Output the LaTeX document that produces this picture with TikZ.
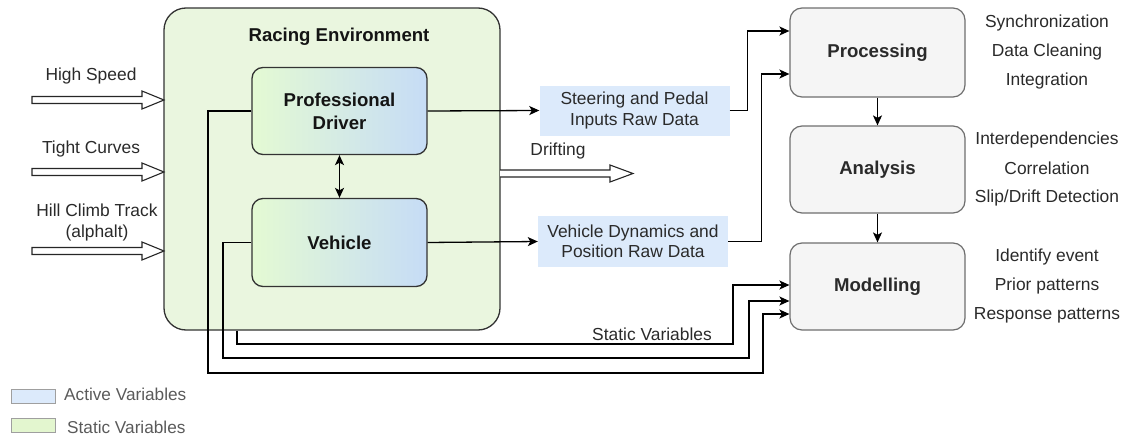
\documentclass[tikz,border=0pt]{standalone}
\usepackage{fontspec}
\setmainfont{Liberation Sans}
\usetikzlibrary{arrows.meta}
\definecolor{envgreen}{HTML}{EAF6DF}
\definecolor{gradgreen}{HTML}{E4FAD3}
\definecolor{gradblue}{HTML}{C6DCF6}
\definecolor{rawblue}{HTML}{DCEAFB}
\definecolor{leggreen}{HTML}{E3F6CF}
\definecolor{stagegray}{HTML}{F5F5F5}
\definecolor{stageborder}{HTML}{6E6E6E}
\definecolor{txt}{HTML}{2A2A2A}
\definecolor{legtxt}{HTML}{5A5A5A}
\begin{document}
\begin{tikzpicture}[x=1pt,y=-1pt,
  reg/.style={font=\fontsize{17.4}{20.5}\selectfont, text=txt},
  boldtxt/.style={font=\fontsize{18.6}{23}\selectfont\bfseries, text=black!92},
  env/.style={draw=black!80, fill=envgreen, rounded corners=22pt, line width=1.3pt, inner sep=0pt},
  actor/.style={draw=black!80, line width=1.3pt, rounded corners=11pt, left color=gradgreen, right color=gradblue,
    minimum width=175pt, inner sep=0pt, align=center, boldtxt},
  raw/.style={fill=rawblue, minimum width=190pt, minimum height=50pt, inner sep=0pt, align=center, reg},
  stage/.style={draw=stageborder, fill=stagegray, line width=1.2pt, rounded corners=12pt,
    minimum width=175pt, inner sep=0pt, boldtxt, text=txt},
  tip/.tip={Stealth[length=10pt,width=9pt,inset=2.5pt]},
  conn/.style={line width=1.3pt, -tip},
  wire/.style={line width=1.3pt},
  fat/.style={draw=black!85, fill=white, line width=1.1pt},
  legbox/.style={draw=gray!75, line width=1pt, minimum width=44pt, minimum height=14pt, inner sep=0pt},
  legtext/.style={font=\fontsize{17.2}{20}\selectfont, text=legtxt, anchor=west, inner sep=0pt},
]
\useasboundingbox (0,0) rectangle (1125,439);

% Racing environment container
\node[env, minimum width=336pt, minimum height=322pt] (envbox) at (332,169) {};
\node[boldtxt] (envtitle) at (339,37) {Racing Environment};

% Input arrows (hollow)
\foreach \yy/\nm in {100/hs,172/tc,251/hc}{
  \draw[fat] (32,\yy-3.5) -- (142,\yy-3.5) -- (142,\yy-9) -- (164,\yy) -- (142,\yy+9) -- (142,\yy+3.5) -- (32,\yy+3.5) -- cycle;
}
\node[reg] (lblhs) at (91,76) {High Speed};
\node[reg] (lbltc) at (91,149) {Tight Curves};
\node[reg, align=center] (lblhc) at (97,222.5) {Hill Climb Track\\(alphalt)};

% Drifting arrow
\draw[fat] (500,170) -- (610,170) -- (610,165) -- (633,173.5) -- (610,182) -- (610,177) -- (500,177);
\node[reg] (lbldrift) at (558,151) {Drifting};

% Process stages
\node[stage, minimum height=89pt] (proc) at (877.5,52.5) {Processing};
\node[stage, minimum height=87pt] (anal) at (877.5,169.5) {Analysis};
\node[stage, minimum height=87pt] (model) at (877.5,286.5) {Modelling};

% Raw data boxes
\node[raw] (steer) at (634.5,110.5) {Steering and Pedal\\Inputs Raw Data};
\node[raw, minimum height=51pt] (vdyn) at (633,241.5) {Vehicle Dynamics and\\Position Raw Data};

% Lines from the environment to Modelling (drawn under the inner boxes)
\draw[conn] ([xshift=-95pt]envbox.south) |- (733,344) |- ([yshift=1.5pt]model.west);
\node[reg] (staticlbl) at (652,334) {Static Variables};

% Inner boxes
\node[actor, minimum height=87pt] (driver) at (339.5,111) {Professional\\Driver};
\node[actor, minimum height=88pt] (veh) at (339.5,242.5) {Vehicle};

\draw[conn] (veh.west) -| (223,358) -| (749,301) -- ([yshift=-14.5pt]model.west);
\draw[conn] (driver.west) -| (208,373) -| (763,314) -- ([yshift=-27.5pt]model.west);

\draw[line width=1.3pt, tip-tip] (driver.south) -- (veh.north);

% Outputs to raw data
\draw[conn] (driver.east) -- (steer.west);
\draw[conn] (veh.east) -- (vdyn.west);

% Raw data to processing
\draw[conn] (steer.east) -- ++(18,0) |- ([yshift=21.5pt]proc.west);
\draw[conn] (vdyn.east) -- ++(33,0) |- ([yshift=-21.5pt]proc.west);

% Stage chain
\draw[conn] (proc.south) -- (anal.north);
\draw[conn] (anal.south) -- (model.north);

% Stage descriptions
\node[reg] (d1) at (1047,23) {Synchronization};
\node[reg] (d2) at (1047,52) {Data Cleaning};
\node[reg] (d3) at (1047,81) {Integration};
\node[reg] (d4) at (1047,140) {Interdependencies};
\node[reg] (d5) at (1047,168.5) {Correlation};
\node[reg] (d6) at (1047,198) {Slip/Drift Detection};
\node[reg] (d7) at (1047,257) {Identify event};
\node[reg] (d8) at (1047,286) {Prior patterns};
\node[reg] (d9) at (1047,315) {Response patterns};

% Legend
\node[legbox, fill=rawblue] (legA) at (33,396) {};
\node[legtext] (legAt) at (64,394.5) {Active Variables};
\node[legbox, fill=leggreen] (legS) at (33,425) {};
\node[legtext] (legSt) at (67,427) {Static Variables};
\end{tikzpicture}
\end{document}
